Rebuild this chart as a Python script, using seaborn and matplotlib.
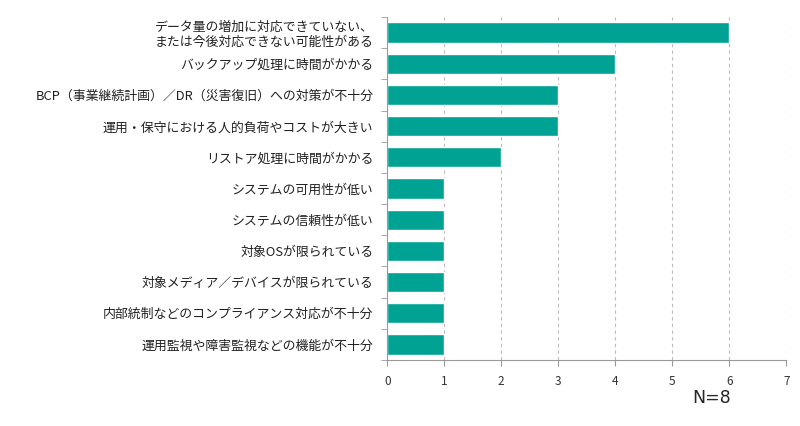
import matplotlib
matplotlib.use("Agg")
import matplotlib.pyplot as plt
import seaborn as sns
import pandas as pd

# 課題項目と回答数
categories = [
    "データ量の増加に対応できていない、\nまたは今後対応できない可能性がある",
    "バックアップ処理に時間がかかる",
    "BCP（事業継続計画）／DR（災害復旧）への対策が不十分",
    "運用・保守における人的負荷やコストが大きい",
    "リストア処理に時間がかかる",
    "システムの可用性が低い",
    "システムの信頼性が低い",
    "対象OSが限られている",
    "対象メディア／デバイスが限られている",
    "内部統制などのコンプライアンス対応が不十分",
    "運用監視や障害監視などの機能が不十分",
]
counts = [6, 4, 3, 3, 2, 1, 1, 1, 1, 1, 1]
xticks = [0, 1, 2, 3, 4, 5, 6, 7]

df = pd.DataFrame({"item": categories, "n": counts})

sns.set_style("white")
plt.rcParams["font.family"] = ["Noto Sans CJK JP", "DejaVu Sans"]

fig = plt.figure(figsize=(8, 4.26), dpi=100)
ax = fig.add_axes([0.484, 0.155, 0.499, 0.805])

sns.barplot(data=df, x="n", y="item", color="#00A393", saturation=1,
            width=0.65, ax=ax, orient="h")

ax.set_xlim(0, 7)
ax.set_xticks(xticks)
ax.set_xticklabels([str(t) for t in xticks], fontsize=8.5, color="#333333")
ax.tick_params(axis="y", labelsize=9.3, colors="#222222", length=0, pad=10)
ax.tick_params(axis="x", length=4, color="#999999", direction="out", bottom=True, pad=7)

# カテゴリ境界の目盛り
ax.set_yticks([i + 0.5 for i in range(-1, len(categories))], minor=True)
ax.tick_params(axis="y", which="minor", length=4, color="#999999", left=True)

for t in xticks[1:]:
    ax.axvline(t, color="#bbbbbb", linestyle=(0, (3, 3)), linewidth=0.8, zorder=0)

for s in ["top", "right"]:
    ax.spines[s].set_visible(False)
ax.spines["left"].set_color("#999999")
ax.spines["bottom"].set_color("#999999")
ax.set_xlabel("")
ax.set_ylabel("")

for lbl in ax.get_yticklabels():
    lbl.set_multialignment("right")

fig.text(0.89, 0.066, "N=8", fontsize=12.5, ha="center", va="center",
         family=["DejaVu Sans"])

fig.savefig("out.png", dpi=100, facecolor="white")
